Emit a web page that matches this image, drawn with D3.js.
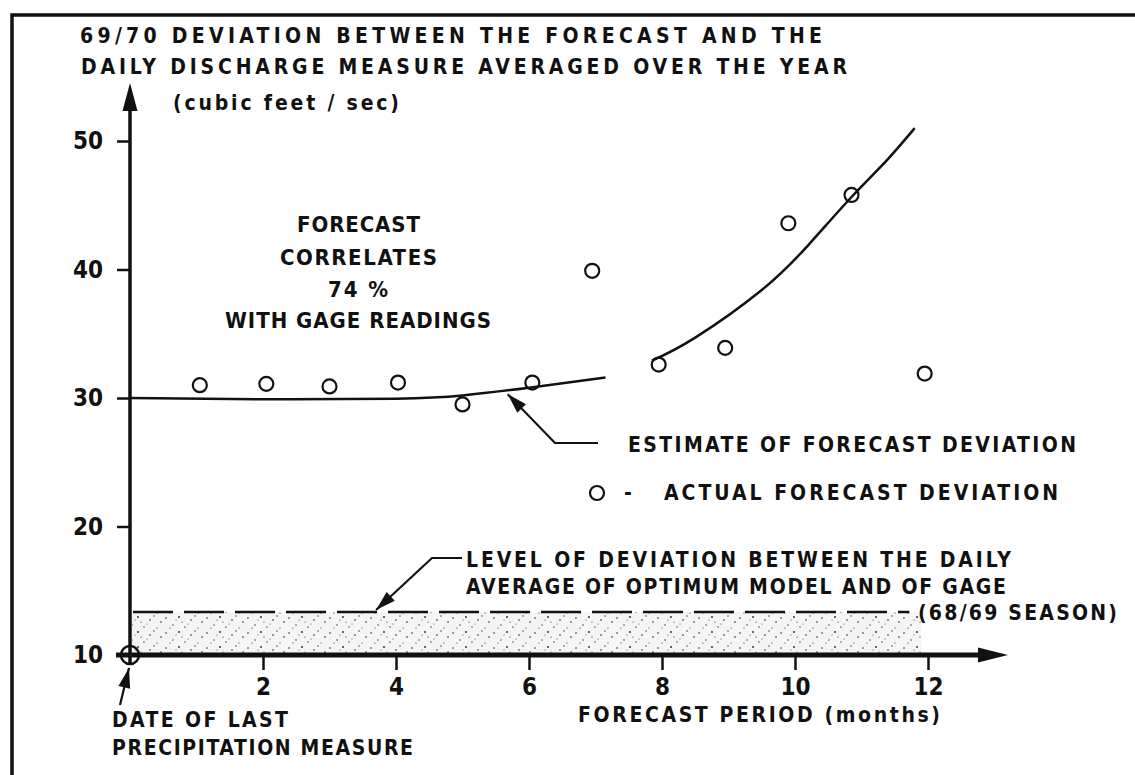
<!DOCTYPE html>
<html>
<head>
<meta charset="utf-8">
<script src="https://cdn.jsdelivr.net/npm/d3@7"></script>
<style>
  body { margin: 0; background: #fff; }
  text { font-family: 'DejaVu Sans Condensed', 'DejaVu Sans', sans-serif; font-weight: bold; fill: #111; }
</style>
</head>
<body>
<svg id="chart" width="1135" height="775"></svg>
<script>
// months after last precipitation measure, and the measured forecast deviation
const months = [1.05, 2.05, 3, 4.03, 5, 6.05, 6.95, 7.95, 8.95, 9.9, 10.85, 11.95];
const actualDev = [31.0, 31.1, 30.9, 31.2, 29.5, 31.2, 39.9, 32.6, 33.9, 43.6, 45.8, 31.9];

// estimate curve, drawn in two pieces
const estMonthsA = [0, 2, 4, 5, 6, 7.15];
const estDevA = [30.0, 29.9, 29.95, 30.2, 30.8, 31.6];
const estMonthsB = [7.85, 8.5, 9.5, 10.2, 10.86, 11.38, 11.8];
const estDevB = [32.9, 34.7, 38.4, 41.9, 45.7, 48.5, 51.0];

// optimum model vs gage level (68/69 season)
const gageLevel = 13.35;
const gageMonths = [0, 11.72];
const shadeMonths = [0, 11.9];

const xTicks = [2, 4, 6, 8, 10, 12];
const yTicks = [10, 20, 30, 40, 50];

const svg = d3.select('#chart');

const x = d3.scaleLinear().domain([0, 12]).range([130, 928]);
const y = d3.scaleLinear().domain([10, 50]).range([655, 141]);

// frame
svg.append('path')
    .attr('d', 'M12,775 L12,15 L1135,15')
    .attr('fill', 'none')
    .attr('stroke', '#111')
    .attr('stroke-width', 3.5);

// stipple pattern for the gage band
const defs = svg.append('defs');
const pat = defs.append('pattern')
    .attr('id', 'stip')
    .attr('patternUnits', 'userSpaceOnUse')
    .attr('width', 41).attr('height', 15);
const dots = [[2,3,0.8],[9,10,0.7],[15,2,0.9],[21,12,0.7],[27,5,0.8],[34,13,0.6],[6,13,0.6],[31,1,0.7],[18,7,0.6],[12,5,0.5],[24,9,0.5],[38,7,0.8]];
pat.selectAll('circle').data(dots).join('circle')
    .attr('cx', d => d[0]).attr('cy', d => d[1]).attr('r', d => d[2])
    .attr('fill', '#222');

svg.append('rect')
    .attr('x', x(shadeMonths[0]) + 2)
    .attr('y', y(gageLevel))
    .attr('width', x(shadeMonths[1]) - x(shadeMonths[0]) - 2)
    .attr('height', y(10) - y(gageLevel))
    .attr('fill', '#f5f5f5');
svg.append('rect')
    .attr('x', x(shadeMonths[0]) + 2)
    .attr('y', y(gageLevel))
    .attr('width', x(shadeMonths[1]) - x(shadeMonths[0]) - 2)
    .attr('height', y(10) - y(gageLevel))
    .attr('fill', 'url(#stip)');

// dashed gage level line
svg.append('line')
    .attr('x1', x(gageMonths[0]) + 3).attr('x2', x(gageMonths[1]))
    .attr('y1', y(gageLevel)).attr('y2', y(gageLevel))
    .attr('stroke', '#111')
    .attr('stroke-width', 2.5)
    .attr('stroke-dasharray', '40 11');

// y axis ticks + labels
const yAxis = d3.axisLeft(y).tickValues(yTicks).tickSize(13).tickPadding(14);
svg.append('g')
    .attr('transform', `translate(${x(0)},0)`)
    .call(yAxis)
    .call(g => g.select('.domain').remove())
    .call(g => g.selectAll('line').attr('stroke', '#111').attr('stroke-width', 2.5))
    .call(g => g.selectAll('text').attr('font-size', 24).attr('font-family', null).attr('fill', '#111'));

// x axis ticks + labels
const xAxis = d3.axisBottom(x).tickValues(xTicks).tickSize(15).tickPadding(8);
svg.append('g')
    .attr('transform', `translate(0,${y(10)})`)
    .call(xAxis)
    .call(g => g.select('.domain').remove())
    .call(g => g.selectAll('line').attr('stroke', '#111').attr('stroke-width', 2.5))
    .call(g => g.selectAll('text').attr('font-size', 24).attr('font-family', null).attr('fill', '#111'));

// axis lines with arrows
svg.append('line')
    .attr('x1', x(0)).attr('x2', x(0))
    .attr('y1', y(10) + 8).attr('y2', 105)
    .attr('stroke', '#111').attr('stroke-width', 3.5);
svg.append('path')
    .attr('d', `M${x(0)},83 L${x(0) - 7.5},111 L${x(0) + 7.5},111 Z`)
    .attr('fill', '#111');

svg.append('line')
    .attr('x1', 116).attr('x2', 982)
    .attr('y1', y(10)).attr('y2', y(10))
    .attr('stroke', '#111').attr('stroke-width', 5);
svg.append('path')
    .attr('d', `M1008,${y(10)} L978,${y(10) - 7.5} L978,${y(10) + 7.5} Z`)
    .attr('fill', '#111');

// origin marker
svg.append('circle')
    .attr('cx', x(0)).attr('cy', y(10)).attr('r', 9)
    .attr('fill', 'none').attr('stroke', '#111').attr('stroke-width', 2.5);

// estimate curve
const line = d3.line()
    .x(d => x(d[0]))
    .y(d => y(d[1]))
    .curve(d3.curveNatural);

svg.append('path')
    .datum(d3.zip(estMonthsA, estDevA))
    .attr('d', line)
    .attr('fill', 'none').attr('stroke', '#111').attr('stroke-width', 2.5);
svg.append('path')
    .datum(d3.zip(estMonthsB, estDevB))
    .attr('d', line)
    .attr('fill', 'none').attr('stroke', '#111').attr('stroke-width', 2.5);

// actual deviation points
svg.selectAll('.point')
    .data(d3.zip(months, actualDev))
  .join('circle')
    .attr('class', 'point')
    .attr('cx', d => x(d[0]))
    .attr('cy', d => y(d[1]))
    .attr('r', 7)
    .attr('fill', 'none')
    .attr('stroke', '#111')
    .attr('stroke-width', 2.2);

// leader with arrowhead at the last point
function leader(pts) {
  svg.append('path')
      .attr('d', d3.line()(pts))
      .attr('fill', 'none').attr('stroke', '#111').attr('stroke-width', 2.2);
  const [ax, ay] = pts[pts.length - 2];
  const [bx, by] = pts[pts.length - 1];
  const ang = Math.atan2(by - ay, bx - ax);
  const len = 20, w = 6;
  const cx = bx - len * Math.cos(ang), cy = by - len * Math.sin(ang);
  svg.append('path')
      .attr('d', `M${bx},${by} L${cx + w * Math.sin(ang)},${cy - w * Math.cos(ang)} L${cx - w * Math.sin(ang)},${cy + w * Math.cos(ang)} Z`)
      .attr('fill', '#111');
}

leader([[598, 443], [555, 443], [x(5.68), y(30.3)]]);
leader([[462, 558], [432, 558], [x(3.7), y(gageLevel) - 2]]);
leader([[120, 705], [x(0) - 1, y(10) + 13]]);

// text helper: textLength keeps the lettering the same width as the original
function label(tx, ty, str, len, size, anchor) {
  const t = svg.append('text')
      .attr('x', tx).attr('y', ty)
      .attr('font-size', size)
      .attr('text-anchor', anchor || 'start')
      .text(str);
  if (len) t.attr('textLength', len).attr('lengthAdjust', 'spacing');
  return t;
}

label(80, 43, '69/70 DEVIATION BETWEEN THE FORECAST AND THE', 742, 21);
label(81, 74, 'DAILY DISCHARGE MEASURE AVERAGED OVER THE YEAR', 766, 21);
label(173, 110, '(cubic feet / sec)', 226, 21);

label(297, 232, 'FORECAST', 123, 22);
label(280, 265, 'CORRELATES', 157, 22);
label(328, 297, '74 %', 60, 22);
label(225, 328, 'WITH GAGE READINGS', 266, 22);

label(628, 452, 'ESTIMATE OF FORECAST DEVIATION', 448, 21);
svg.append('circle')
    .attr('cx', 597).attr('cy', 493).attr('r', 7)
    .attr('fill', 'none').attr('stroke', '#111').attr('stroke-width', 2.2);
label(624, 500, '-', null, 21);
label(664, 500, 'ACTUAL FORECAST DEVIATION', 394, 21);

label(466, 567, 'LEVEL OF DEVIATION BETWEEN THE DAILY', 545, 21);
label(466, 594, 'AVERAGE OF OPTIMUM MODEL AND OF GAGE', 540, 21);
label(918, 620, '(68/69 SEASON)', 199, 21);

label(578, 722, 'FORECAST PERIOD (months)', 362, 21);
label(112, 727, 'DATE OF LAST', 176, 21);
label(112, 755, 'PRECIPITATION MEASURE', 301, 21);
</script>
</body>
</html>
